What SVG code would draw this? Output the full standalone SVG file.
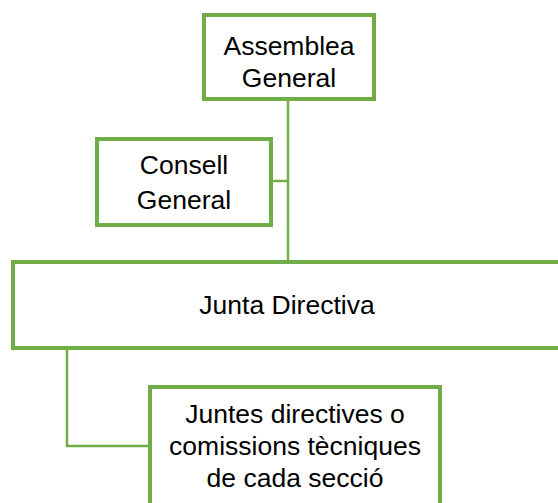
<svg xmlns="http://www.w3.org/2000/svg" width="558" height="503" viewBox="0 0 558 503">
<style>
.box{fill:#fff;stroke:#70AD47;stroke-width:4}
.con{fill:none;stroke:#70AD47;stroke-width:2.5}
text{font-family:"Liberation Sans",Arial,sans-serif;font-size:26.5px;fill:#000;text-anchor:middle}
</style>
<rect width="558" height="503" fill="#fff"/>
<g id="connectors">
<path class="con" d="M288 100V262"/>
<path class="con" d="M273 181H288"/>
<path class="con" d="M67 349V446H150"/>
</g>
<g id="assemblea">
<rect class="box" x="204" y="15" width="170" height="84"/>
<text x="289" y="55">Assemblea</text>
<text x="289" y="87">General</text>
</g>
<g id="consell">
<rect class="box" x="97" y="139" width="174" height="86"/>
<text x="184" y="174">Consell</text>
<text x="184" y="209">General</text>
</g>
<g id="junta">
<rect class="box" x="13" y="262" width="550" height="86"/>
<text x="287" y="314">Junta Directiva</text>
</g>
<g id="juntes">
<rect class="box" x="150" y="387" width="290" height="130"/>
<text x="295" y="423">Juntes directives o</text>
<text x="295" y="455">comissions tècniques</text>
<text x="295" y="487">de cada secció</text>
</g>
</svg>
